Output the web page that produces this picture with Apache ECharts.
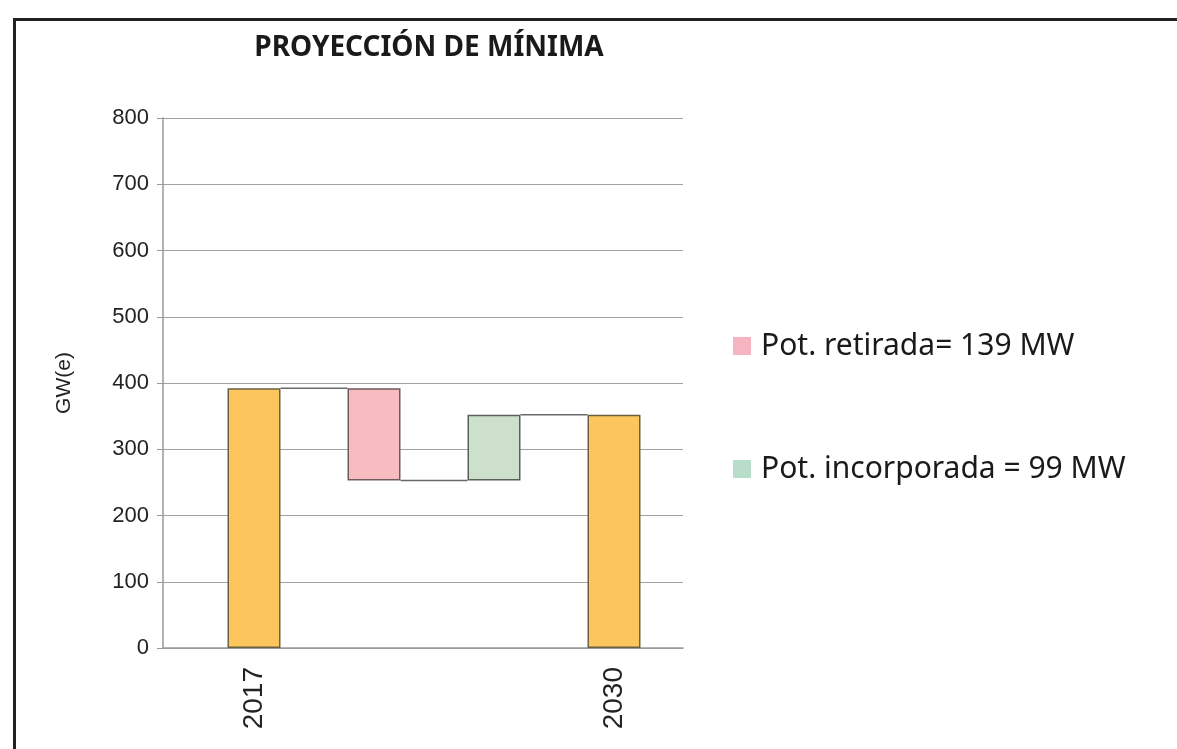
<!DOCTYPE html>
<html>
<head>
<meta charset="utf-8">
<script src="https://cdn.jsdelivr.net/npm/echarts@6/dist/echarts.min.js"></script>
<style>
  html, body { margin: 0; padding: 0; background: #ffffff; }
  #chart { width: 1177px; height: 749px; }
</style>
</head>
<body>
<div id="chart"></div>
<script>
// Waterfall: installed capacity 2017 -> retired -> added -> 2030 (GW(e))
const categories = ['2017', 'retirada', 'incorporada', '2030'];
const startValue = 392;      // 2017
const retiredValue = 139;    // Pot. retirada
const addedValue = 99;       // Pot. incorporada
const endValue = 352;        // 2030
const yTicks = [0, 100, 200, 300, 400, 500, 600, 700, 800];
const legendRetired = 'Pot. retirada= 139 MW';
const legendAdded = 'Pot. incorporada = 99 MW';

const lowPoint = startValue - retiredValue;

// invisible base of the floating bars
const baseData = [0, lowPoint, lowPoint, 0];
const totalData = [startValue, '-', '-', endValue];
const retiredData = ['-', retiredValue, '-', '-'];
const addedData = ['-', '-', addedValue, '-'];
// connector levels between neighbouring bars: [fromIndex, level]
const connectors = [[0, startValue], [1, lowPoint], [2, endValue]];

const BAR_W = 53;
const chart = echarts.init(document.getElementById('chart'));

chart.setOption({
  backgroundColor: '#ffffff',
  animation: false,
  title: {
    text: 'PROYECCIÓN DE MÍNIMA',
    left: 424, top: 29, textAlign: 'center',
    textStyle: { fontFamily: 'Noto Sans', fontWeight: 'bold', fontSize: 28, color: '#1a1a1a' }
  },
  legend: {
    orient: 'vertical',
    left: 728, top: 326,
    itemWidth: 18, itemHeight: 18,
    itemGap: 93,
    icon: 'rect',
    itemStyle: { borderWidth: 0 },
    data: [
      { name: legendRetired, itemStyle: { color: '#F5B4C0', borderWidth: 0 } },
      { name: legendAdded, itemStyle: { color: '#B9DDCB', borderWidth: 0 } }
    ],
    textStyle: { fontFamily: 'Noto Sans', fontSize: 30, color: '#1a1a1a', padding: [0, 0, 0, 5] }
  },
  graphic: [{
    type: 'rect', left: 12, top: 17,
    shape: { width: 1200, height: 760 },
    style: { fill: 'none', stroke: '#222', lineWidth: 3 }, silent: true
  }],
  grid: [
    { left: 163, top: 118, width: 520, height: 530 },
    { left: 194, top: 118, width: 480, height: 530 }
  ],
  xAxis: [
    {
      gridIndex: 0, type: 'value', min: 0, max: 1,
      axisLine: { show: true, lineStyle: { color: '#9a9a9a', width: 1.5 } },
      axisTick: { show: false }, axisLabel: { show: false }, splitLine: { show: false }
    },
    {
      gridIndex: 1, type: 'category', data: categories,
      axisLine: { show: false }, axisTick: { show: false }, splitLine: { show: false },
      axisLabel: {
        rotate: 90, margin: 19, interval: 0,
        fontFamily: 'Liberation Sans, Arial', fontSize: 28, color: '#222',
        formatter: v => (/^\d+$/.test(v) ? v : '')
      }
    }
  ],
  yAxis: [
    {
      gridIndex: 0, type: 'value', min: 0, max: 800, interval: 100,
      name: 'GW(e)', nameLocation: 'middle', nameGap: 88, nameRotate: 90,
      nameTextStyle: { fontFamily: 'Liberation Sans, Arial', fontSize: 21, color: '#222' },
      axisLine: { show: true, lineStyle: { color: '#9a9a9a', width: 1.5 } },
      axisTick: { show: true, length: 6, lineStyle: { color: '#9a9a9a' } },
      splitLine: { show: true, lineStyle: { color: '#a0a0a0', width: 1.2 } },
      axisLabel: {
        margin: 14, fontFamily: 'Liberation Sans, Arial', fontSize: 22, color: '#222',
        formatter: v => (yTicks.includes(v) ? String(v) : '')
      }
    },
    {
      gridIndex: 1, type: 'value', min: 0, max: 800, show: false
    }
  ],
  series: [
    {
      name: 'base', type: 'bar', stack: 'wf', xAxisIndex: 1, yAxisIndex: 1,
      barWidth: BAR_W, data: baseData,
      itemStyle: { color: 'rgba(0,0,0,0)', borderWidth: 0 }, silent: true
    },
    {
      name: 'total', type: 'bar', stack: 'wf', xAxisIndex: 1, yAxisIndex: 1,
      barWidth: BAR_W, data: totalData,
      itemStyle: { color: '#FCC55E', borderColor: '#6b6040', borderWidth: 1.5 }
    },
    {
      name: legendRetired, type: 'bar', stack: 'wf', xAxisIndex: 1, yAxisIndex: 1,
      barWidth: BAR_W, data: retiredData,
      itemStyle: { color: '#F8BCC0', borderColor: '#6e5a5c', borderWidth: 1.5 }
    },
    {
      name: legendAdded, type: 'bar', stack: 'wf', xAxisIndex: 1, yAxisIndex: 1,
      barWidth: BAR_W, data: addedData,
      itemStyle: { color: '#CDE0CC', borderColor: '#59605a', borderWidth: 1.5 }
    },
    {
      name: 'connectors', type: 'custom', xAxisIndex: 1, yAxisIndex: 1,
      data: connectors, silent: true, z: 3,
      renderItem: (params, api) => {
        const i = api.value(0);
        const a = api.coord([i, api.value(1)]);
        const b = api.coord([i + 1, api.value(1)]);
        return {
          type: 'line',
          shape: { x1: a[0] + BAR_W / 2, y1: a[1], x2: b[0] - BAR_W / 2, y2: b[1] },
          style: { stroke: '#6a6a6a', lineWidth: 1.5 }
        };
      }
    }
  ]
});
</script>
</body>
</html>
